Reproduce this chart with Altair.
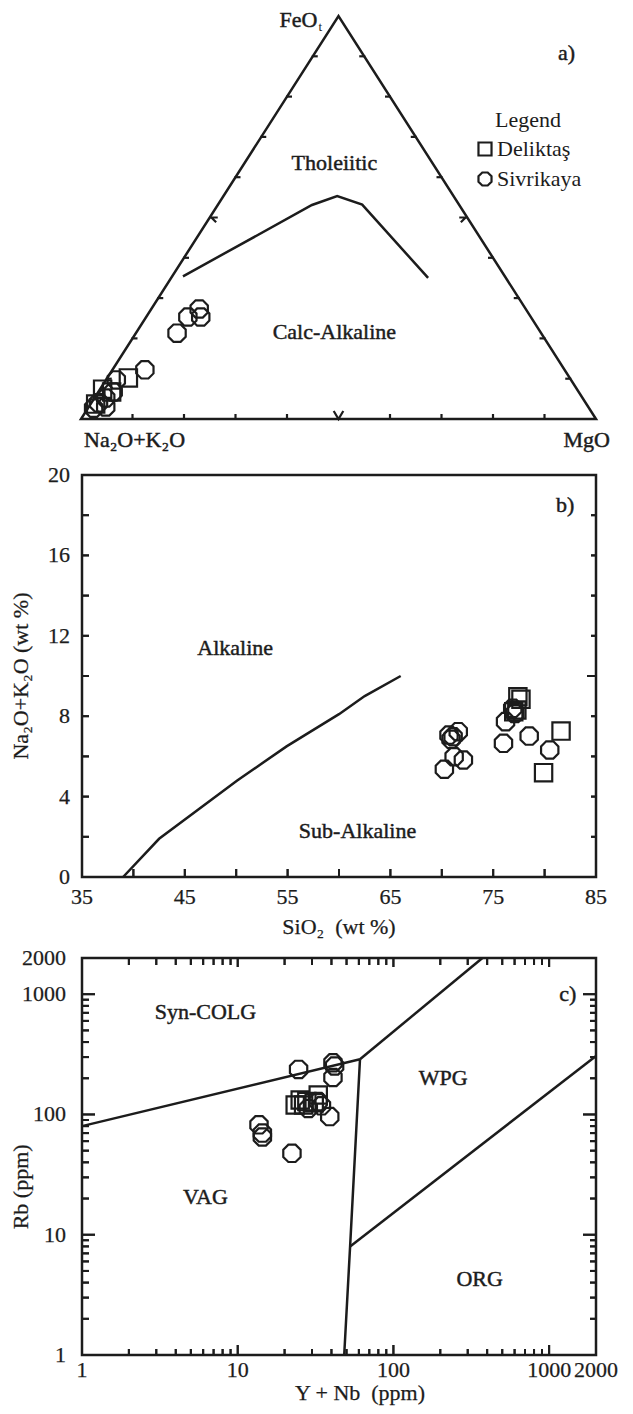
import altair as alt
import pandas as pd

FONT = "Liberation Serif"
INK = "#1c1c1c"
FS = 22

GROUPS = ["Deliktaş", "Sivrikaya"]
SQUARE = "M-1,-1L1,-1L1,1L-1,1Z"
OCTAGON = "M-0.414,-1L0.414,-1L1,-0.414L1,0.414L0.414,1L-0.414,1L-1,0.414L-1,-0.414Z"

# ---------------- data ----------------
# a) AFM ternary: FeOt (F) and MgO (M) in %, Na2O+K2O = 100 - F - M
afm_del_F = [10.2, 7.4, 3.7, 6.7]
afm_del_M = [4.1, 0.5, 1.0, 2.6]
afm_siv_F = [27.3, 25.3, 25.3, 21.3, 12.2, 9.7, 6.7, 5.2, 3.0, 4.0, 2.7]
afm_siv_M = [9.3, 8.1, 10.6, 8.0, 6.3, 2.0, 2.9, 2.2, 3.3, 1.4, 1.1]
afm_line_F = [35.4, 53.1, 55.3, 53.2, 35.0]
afm_line_M = [2.1, 18.3, 22.1, 28.0, 49.9]
afm_frame_F = [0, 0, 100, 0, 0]
afm_frame_M = [50, 100, 0, 0, 50]
afm_minor = [10, 20, 30, 40, 60, 70, 80, 90]
afm_mid = [50]
afm_text = ["Tholeiitic", "Calc-Alkaline", "a)"]
afm_text_u = [0.492, 0.492, 0.943]
afm_text_f = [0.635, 0.216, 0.908]

# b) total alkali vs silica
tas_del_si = [77.4, 77.7, 77.0, 77.3, 81.6, 79.9]
tas_del_alk = [8.97, 8.84, 8.22, 8.31, 7.26, 5.19]
tas_siv_si = [70.25, 71.2, 72.1, 70.7, 71.1, 71.6, 70.9, 76.0, 76.2, 78.5, 80.5, 76.9, 77.1]
tas_siv_alk = [5.36, 5.98, 5.82, 7.06, 6.98, 7.23, 6.85, 6.65, 7.73, 7.01, 6.32, 8.39, 8.14]
tas_line_si = [39.0, 42.5, 50.1, 54.9, 60.0, 62.5, 66.0]
tas_line_alk = [0.0, 1.9, 4.8, 6.5, 8.1, 9.0, 10.0]
tas_text = ["Alkaline", "Sub-Alkaline", "b)"]
tas_text_si = [49.9, 61.8, 82.0]
tas_text_alk = [11.4, 2.3, 18.5]
tas_x_ticks = [35, 40, 45, 50, 55, 60, 65, 70, 75, 80, 85]
tas_x_labels = [35, 45, 55, 65, 75, 85]
tas_y_ticks = [0, 2, 4, 6, 8, 10, 12, 14, 16, 18, 20]
tas_y_labels = [0, 4, 8, 12, 16, 20]
tas_y_right_major = [10]
tas_x_title = ("SiO₂\u2002(wt %)", 60, 0)
tas_y_title = ("Na₂O+K₂O (wt %)", 35, 10)

# c) Rb vs Y+Nb
pe_del_ynb = [23.4, 25.2, 27.8, 32.9, 31.0, 26.5]
pe_del_rb = [120, 132, 128, 145, 125, 120]
pe_siv_ynb = [24.6, 40.9, 41.9, 40.9, 13.7, 14.4, 14.4, 22.3, 39.0, 28.4, 32.9, 34.5]
pe_siv_rb = [237, 269, 253, 203, 82, 65, 70, 47.5, 96, 112, 128, 118]
pe_seg_names = ["syn-VAG", "syn-WPG", "VAG-WPG", "WPG-ORG"]
pe_seg_x = [[1, 61], [61, 373], [61, 52.7, 48.3], [52.7, 2000]]
pe_seg_y = [[80, 288], [288, 2000], [288, 8, 1], [8, 306]]
pe_text = ["Syn-COLG", "WPG", "VAG", "ORG", "c)"]
pe_text_x = [6.2, 209, 6.2, 358, 1320]
pe_text_y = [705, 202, 20.5, 4.28, 1000]
pe_minor = [2, 3, 4, 5, 6, 7, 8, 9, 20, 30, 40, 50, 60, 70, 80, 90,
            200, 300, 400, 500, 600, 700, 800, 900, 2000]
pe_major = [1, 10, 100, 1000]
pe_labels = [1, 10, 100, 1000, 2000]
pe_x_title = ("Y + Nb\u2002(ppm)", 61, 1)
pe_y_title = ("Rb (ppm)", 1, 25)

# ---------------- helpers ----------------
def tern(F, M):
    return pd.DataFrame({"u": [(m + f / 2) / 100 for f, m in zip(F, M)],
                         "f": [f / 100 for f in F]})


def samples(xd, yd, xs, ys):
    return pd.DataFrame({
        "x": list(xd) + list(xs),
        "y": list(yd) + list(ys),
        "group": [GROUPS[0]] * len(xd) + [GROUPS[1]] * len(xs),
    })


shape_scale = alt.Scale(domain=GROUPS, range=[SQUARE, OCTAGON])
PT = dict(filled=False, size=300, strokeWidth=2.2, color=INK, opacity=1)
TXT = dict(font=FONT, fontSize=FS, color=INK, stroke=INK, strokeWidth=0.45)
LBL = dict(font=FONT, fontSize=FS, color=INK, stroke=INK, strokeWidth=0.25)
TICK_SHAPE = {"left": "M0,0L1,0", "right": "M0,0L-1,0", "bottom": "M0,0L0,-1", "top": "M0,0L0,1"}


class Frame:
    """Scales of one framed panel, with axis labels, titles and inward ticks as marks."""

    def __init__(self, xs, ys, xr, yr, W, H):
        self.xs, self.ys, self.xr, self.yr, self.W, self.H = xs, ys, xr, yr, W, H

    def X(self, f):
        return alt.X(f"{f}:Q", scale=self.xs, axis=None)

    def Y(self, f):
        return alt.Y(f"{f}:Q", scale=self.ys, axis=None)

    def ticks(self, values, side, length):
        """Tick marks drawn twice (rule and symbol) at the same place."""
        rule = alt.Chart(pd.DataFrame({"v": values})).mark_rule(color=INK, strokeWidth=2)
        if side in ("left", "right"):
            x0 = 0 if side == "left" else self.W
            x1 = length if side == "left" else self.W - length
            r = rule.encode(x=alt.value(x0), x2=alt.value(x1), y=self.Y("v"))
            e = self.xr[0] if side == "left" else self.xr[1]
            df = pd.DataFrame({"v": values, "e": [e] * len(values)})
            enc = dict(x=self.X("e"), y=self.Y("v"))
        else:
            y0 = self.H if side == "bottom" else 0
            y1 = self.H - length if side == "bottom" else length
            r = rule.encode(y=alt.value(y0), y2=alt.value(y1), x=self.X("v"))
            e = self.yr[0] if side == "bottom" else self.yr[1]
            df = pd.DataFrame({"v": values, "e": [e] * len(values)})
            enc = dict(x=self.X("v"), y=self.Y("e"))
        p = alt.Chart(df).mark_point(shape=TICK_SHAPE[side], size=4 * length ** 2, filled=False,
                                     strokeWidth=2, color=INK, opacity=1).encode(**enc)
        return [r, p]

    def ylabels(self, values, pad):
        df = pd.DataFrame({"y": values, "x": [self.xr[0]] * len(values),
                           "t": [str(v) for v in values]})
        return alt.Chart(df).mark_text(align="right", baseline="middle", dx=-pad, **LBL).encode(
            x=self.X("x"), y=self.Y("y"), text="t:N")

    def xlabels(self, values, pad):
        df = pd.DataFrame({"x": values, "y": [self.yr[0]] * len(values),
                           "t": [str(v) for v in values]})
        return alt.Chart(df).mark_text(align="center", baseline="top", dy=pad, **LBL).encode(
            x=self.X("x"), y=self.Y("y"), text="t:N")

    def xtitle(self, spec, pad):
        t, x, y = spec
        return alt.Chart(pd.DataFrame({"t": [t], "x": [x], "y": [y]})).mark_text(
            align="center", baseline="top", dy=pad, **LBL).encode(
            x=self.X("x"), y=self.Y("y"), text="t:N")

    def ytitle(self, spec, pad):
        t, x, y = spec
        return alt.Chart(pd.DataFrame({"t": [t], "x": [x], "y": [y]})).mark_text(
            align="center", baseline="bottom", angle=270, dy=-pad, **LBL).encode(
            x=self.X("x"), y=self.Y("y"), text="t:N")


# ---------------- panel a ----------------
W = 514
HA = 378
ua = alt.Scale(domain=[1 / (W + 1), 1], nice=False, zero=False)
fa = alt.Scale(domain=[1 - HA / 403, 1], nice=False, zero=False)
UX = alt.X("u:Q", scale=ua, axis=None)
FY = alt.Y("f:Q", scale=fa, axis=None)

frame_df = tern(afm_frame_F, afm_frame_M).assign(i=range(len(afm_frame_F)))
frame = alt.Chart(frame_df).mark_line(color=INK, strokeWidth=2.5, strokeJoin="miter").encode(
    x=UX, y=FY, order="i:Q")
bline_df = tern(afm_line_F, afm_line_M).assign(i=range(len(afm_line_F)))
bline = alt.Chart(bline_df).mark_line(color=INK, strokeWidth=2.5).encode(x=UX, y=FY, order="i:Q")


def tick_layer(F, M, shape, size):
    return alt.Chart(tern(F, M)).mark_point(shape=shape, size=size, filled=False,
                                            strokeWidth=2.2, color=INK, opacity=1).encode(x=UX, y=FY)


ticks_a = [
    tick_layer([0] * len(afm_minor), afm_minor, "M0,0.2L0,-1", 100),
    tick_layer(afm_minor, [0] * len(afm_minor), "M-0.2,0L1,0", 100),
    tick_layer(afm_minor, [100 - v for v in afm_minor], "M0.2,0L-1,0", 100),
    tick_layer([0], afm_mid, "M-0.6,-1L0,0L0.6,-1", 256),
    tick_layer(afm_mid, [0], "M0,0L1,0M0.2,0L0.8,0.6", 256),
    tick_layer(afm_mid, [100 - v for v in afm_mid], "M0,0L-1,0M-0.2,0L-0.8,0.6", 256),
]

pts_a_df = tern(afm_del_F + afm_siv_F, afm_del_M + afm_siv_M)
pts_a_df["group"] = [GROUPS[0]] * len(afm_del_F) + [GROUPS[1]] * len(afm_siv_F)
legend_a = alt.Legend(title="Legend", orient="none", legendX=392, legendY=94,
                      titleFont=FONT, titleFontSize=FS, titleFontWeight="normal",
                      titleColor=INK, titleAnchor="middle", titlePadding=6,
                      labelFont=FONT, labelFontSize=FS, labelColor=INK, labelOffset=1,
                      symbolSize=170, symbolStrokeWidth=2.2, symbolStrokeColor=INK,
                      symbolFillColor="transparent", rowPadding=8, padding=0)
pts_a = alt.Chart(pts_a_df).mark_point(**PT).encode(
    x=UX, y=FY, shape=alt.Shape("group:N", scale=shape_scale, legend=legend_a))

txt_a = alt.Chart(pd.DataFrame({"t": afm_text, "u": afm_text_u, "f": afm_text_f})).mark_text(
    **TXT).encode(x=UX, y=FY, text="t:N")

vert = tern([100], [0])
feo = alt.Chart(vert).mark_text(text="FeO", align="right", baseline="middle", dx=-21, dy=4,
                                **TXT).encode(x=UX, y=FY)
feo_t = alt.Chart(vert).mark_text(text="t", align="left", baseline="middle", dx=-20, dy=11,
                                  font=FONT, fontSize=13, color=INK).encode(x=UX, y=FY)
alk_lbl = alt.Chart(tern([0], [0])).mark_text(text="Na₂O+K₂O", align="left", baseline="middle",
                                              dx=3, dy=21, **TXT).encode(x=UX, y=FY)
mg_lbl = alt.Chart(tern([0], [100])).mark_text(text="MgO", align="right", baseline="middle",
                                               dx=14, dy=21, **TXT).encode(x=UX, y=FY)

panel_a = alt.layer(frame, bline, *ticks_a, pts_a, txt_a, feo, feo_t, alk_lbl, mg_lbl).properties(
    width=W, height=HA, view=alt.ViewBackground(stroke="transparent"))

# ---------------- panel b ----------------
HB = 402
xb_dom = [35, 85]
yb_dom = [0, 20]
fb = Frame(alt.Scale(domain=xb_dom, nice=False, zero=False),
           alt.Scale(domain=yb_dom, nice=False, zero=False), xb_dom, yb_dom, W, HB)

pts_b = alt.Chart(samples(tas_del_si, tas_del_alk, tas_siv_si, tas_siv_alk)).mark_point(**PT).encode(
    x=fb.X("x"), y=fb.Y("y"), shape=alt.Shape("group:N", scale=shape_scale, legend=None))
line_b = alt.Chart(pd.DataFrame({"x": tas_line_si, "y": tas_line_alk, "i": range(len(tas_line_si))})
                   ).mark_line(color=INK, strokeWidth=2.5).encode(x=fb.X("x"), y=fb.Y("y"), order="i:Q")
txt_b = alt.Chart(pd.DataFrame({"t": tas_text, "x": tas_text_si, "y": tas_text_alk})).mark_text(
    **TXT).encode(x=fb.X("x"), y=fb.Y("y"), text="t:N")
layers_b = (
    fb.ticks(tas_y_ticks, "left", 7)
    + fb.ticks([v for v in tas_y_ticks if v not in tas_y_right_major], "right", 5)
    + fb.ticks(tas_y_right_major, "right", 9)
    + fb.ticks(tas_x_ticks, "bottom", 8)
    + [line_b, pts_b, txt_b,
       fb.ylabels(tas_y_labels, 12),
       fb.xlabels(tas_x_labels, 10),
       fb.xtitle(tas_x_title, 40),
       fb.ytitle(tas_y_title, 49)]
)
panel_b = alt.layer(*layers_b).properties(
    width=W, height=HB, view=alt.ViewBackground(stroke=INK, strokeWidth=2.5))

# ---------------- panel c ----------------
HC = 397
xc_dom = [1, 2000]
yc_dom = [1, 2000]
fc = Frame(alt.Scale(type="log", domain=xc_dom, nice=False),
           alt.Scale(type="log", domain=yc_dom, nice=False), xc_dom, yc_dom, W, HC)

pts_c = alt.Chart(samples(pe_del_ynb, pe_del_rb, pe_siv_ynb, pe_siv_rb)).mark_point(**PT).encode(
    x=fc.X("x"), y=fc.Y("y"), shape=alt.Shape("group:N", scale=shape_scale, legend=None))
seg_rows = []
for name, xs, ys in zip(pe_seg_names, pe_seg_x, pe_seg_y):
    for i, (xv, yv) in enumerate(zip(xs, ys)):
        seg_rows.append({"seg": name, "i": i, "x": xv, "y": yv})
line_c = alt.Chart(pd.DataFrame(seg_rows)).mark_line(color=INK, strokeWidth=2.5).encode(
    x=fc.X("x"), y=fc.Y("y"), detail="seg:N", order="i:Q")
txt_c = alt.Chart(pd.DataFrame({"t": pe_text, "x": pe_text_x, "y": pe_text_y})).mark_text(
    **TXT).encode(x=fc.X("x"), y=fc.Y("y"), text="t:N")
layers_c = (
    fc.ticks(pe_major, "left", 13) + fc.ticks(pe_minor, "left", 7)
    + fc.ticks(pe_major, "right", 13) + fc.ticks(pe_minor, "right", 6)
    + fc.ticks(pe_major, "bottom", 10) + fc.ticks(pe_minor, "bottom", 6)
    + fc.ticks(pe_major, "top", 9) + fc.ticks(pe_minor, "top", 7)
    + [line_c, pts_c, txt_c,
       fc.ylabels(pe_labels, 16),
       fc.xlabels(pe_labels, 5),
       fc.xtitle(pe_x_title, 28),
       fc.ytitle(pe_y_title, 49)]
)
panel_c = alt.layer(*layers_c).properties(
    width=W, height=HC, view=alt.ViewBackground(stroke=INK, strokeWidth=2.5))

chart = alt.vconcat(panel_a, panel_b, panel_c, spacing=81, bounds="flush").resolve_scale(
    shape="independent").properties(padding=0, background="white")

chart.save("out.html", embed_options={"renderer": "svg", "actions": False})
